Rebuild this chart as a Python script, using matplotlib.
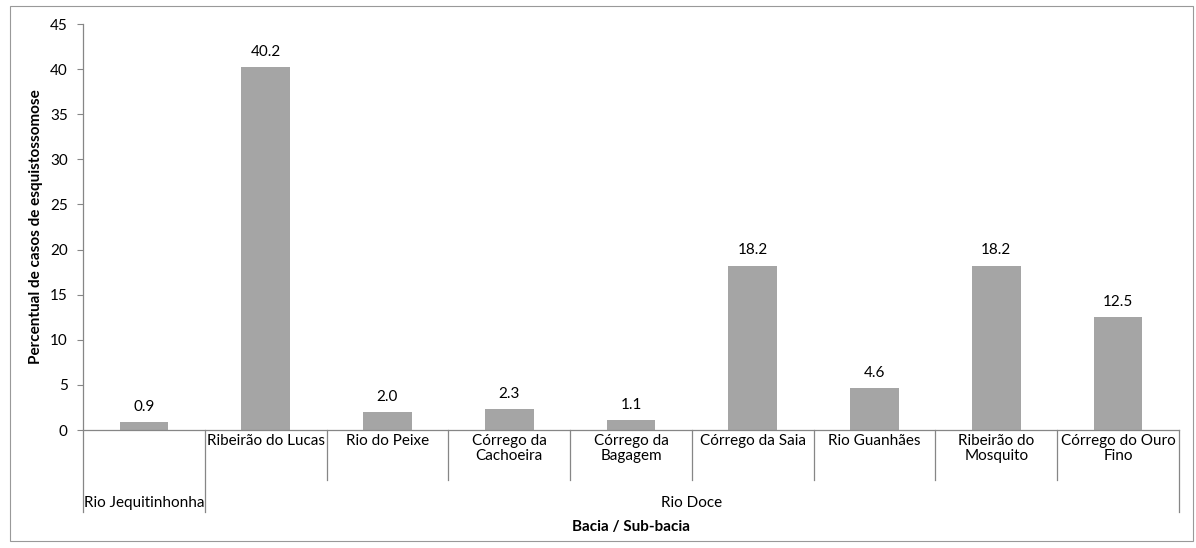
import numpy as np
import matplotlib
matplotlib.use("Agg")
import matplotlib.pyplot as plt
from matplotlib.patches import Rectangle

plt.rcParams["font.family"] = ["Lato", "DejaVu Sans"]

# data
sub_bacias = ["Rio Jequitinhonha", "Ribeirão do Lucas", "Rio do Peixe", "Córrego da\nCachoeira",
              "Córrego da\nBagagem", "Córrego da Saia", "Rio Guanhães", "Ribeirão do\nMosquito",
              "Córrego do Ouro\nFino"]
bacias = ["Rio Jequitinhonha", "Rio Doce", "Rio Doce", "Rio Doce", "Rio Doce",
          "Rio Doce", "Rio Doce", "Rio Doce", "Rio Doce"]
percentual = [0.9, 40.2, 2.0, 2.3, 1.1, 18.2, 4.6, 18.2, 12.5]

axis_grey = "#868686"
fs = 11

fig = plt.figure(figsize=(11.96, 5.48), dpi=100)
fig.patches.append(Rectangle((10 / 1196, 1 - 541 / 548), 1183 / 1196, 535 / 548,
                             transform=fig.transFigure, fill=False,
                             edgecolor="#999999", linewidth=0.8))
ax = fig.add_axes([83 / 1196, 1 - 430 / 548, 1096 / 1196, 406 / 548])

x = np.arange(len(percentual))
bars = ax.bar(x, percentual, width=0.4, color="#A5A5A5")
for b, v in zip(bars, percentual):
    ax.annotate(f"{v:.1f}", (b.get_x() + b.get_width() / 2, v), xytext=(0, 6),
                textcoords="offset points", ha="center", va="bottom", fontsize=fs)

ax.set_xlim(-0.5, len(percentual) - 0.5)
ax.set_ylim(0, 45)
ax.set_yticks(np.arange(0, 46, 5))
ax.tick_params(axis="y", length=4, color=axis_grey, labelsize=fs, pad=7)
ax.set_xticks([])
for s in ["top", "right"]:
    ax.spines[s].set_visible(False)
for s in ["left", "bottom"]:
    ax.spines[s].set_color(axis_grey)
    ax.spines[s].set_linewidth(0.9)

tr = ax.get_xaxis_transform()
px = 1 / 406  # one pixel in axes fraction (vertical)

# level 1 labels
for i, name in enumerate(sub_bacias):
    if bacias[i] == "Rio Jequitinhonha":
        continue
    ax.text(i, -4 * px, name, transform=tr, ha="center", va="top", fontsize=fs,
            linespacing=1.1)

# group labels
groups = []
for i, b in enumerate(bacias):
    if groups and groups[-1][0] == b:
        groups[-1][2] = i
    else:
        groups.append([b, i, i])

edges = set()
for name, i0, i1 in groups:
    ax.text((i0 + i1) / 2, -73 * px, name, transform=tr, ha="center", va="center",
            fontsize=fs)
    edges.add(i0 - 0.5)
    edges.add(i1 + 0.5)

for e in np.arange(-0.5, len(percentual), 1.0):
    depth = 82 if e in edges else 50
    ax.plot([e, e], [0, -depth * px], transform=tr, color=axis_grey, linewidth=0.9,
            clip_on=False)

ax.text(0.5, -97 * px, "Bacia / Sub-bacia", transform=ax.transAxes, ha="center",
        va="center", fontsize=fs, fontweight="bold")
ax.set_ylabel("Percentual de casos de esquistossomose", fontsize=fs, fontweight="bold",
              labelpad=5)

fig.savefig("out.png", dpi=100)
